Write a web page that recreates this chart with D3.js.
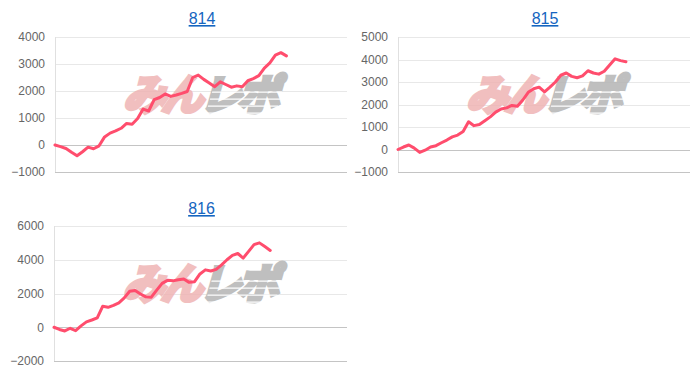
<!DOCTYPE html>
<html>
<head>
<meta charset="utf-8">
<script src="https://cdn.jsdelivr.net/npm/d3@7"></script>
<style>
    body { margin: 0; background: #fff; }
    svg { display: block; font-family: "Liberation Sans", Arial, sans-serif; }
</style>
</head>
<body>
<div id="chart"></div>
<script>

// chart titles
var titles = ["814", "815", "816"];

// y axis ticks of each chart
var ticks814 = [-1000, 0, 1000, 2000, 3000, 4000];
var ticks815 = [-1000, 0, 1000, 2000, 3000, 4000, 5000];
var ticks816 = [-2000, 0, 2000, 4000, 6000];

// cumulative balance, one value per step
var values814 = [0, -60, -130, -270, -400, -250, -80, -140, -30, 300, 440, 520, 620, 800, 770,
    980, 1330, 1260, 1680, 1760, 1890, 1800, 1850, 1910, 1980, 2500, 2590, 2430, 2300, 2160,
    2340, 2240, 2140, 2190, 2160, 2380, 2460, 2570, 2850, 3040, 3330, 3420, 3300];
var values815 = [0, 110, 200, 60, -130, -30, 110, 170, 300, 420, 560, 640, 800, 1230, 1060,
    1110, 1280, 1450, 1660, 1800, 1850, 1960, 1920, 2200, 2540, 2700, 2770, 2560, 2770, 3000,
    3300, 3400, 3250, 3190, 3270, 3500, 3400, 3350, 3480, 3760, 4030, 3950, 3900];
var values816 = [0, -130, -220, -60, -200, 80, 320, 430, 560, 1240, 1180, 1300, 1450, 1740, 2130,
    2180, 1970, 1800, 1780, 2200, 2600, 2780, 2750, 2820, 2860, 2660, 2700, 3160, 3400, 3330,
    3430, 3700, 4000, 4260, 4370, 4100, 4500, 4900, 5000, 4780, 4550];

// number of steps the x axis has room for
var xSpans = [53, 53.8, 54.2];

var width = 700, height = 374;

var svg = d3.select("#chart").append("svg")
    .attr("width", width)
    .attr("height", height);

var panels = [
    {title: titles[0], values: values814, ticks: ticks814, span: xSpans[0],
        left: 55, right: 347, top: 37, bottom: 172, titleY: 24},
    {title: titles[1], values: values815, ticks: ticks815, span: xSpans[1],
        left: 398, right: 690, top: 37, bottom: 172, titleY: 24},
    {title: titles[2], values: values816, ticks: ticks816, span: xSpans[2],
        left: 54, right: 347, top: 226, bottom: 361, titleY: 214}
];

panels.forEach(function(p) {
    var g = svg.append("g");

    var x = d3.scaleLinear()
        .domain([0, p.span])
        .range([p.left, p.right]);
    var y = d3.scaleLinear()
        .domain(d3.extent(p.ticks))
        .range([p.bottom, p.top]);

    // title
    g.append("text")
        .attr("x", (p.left + p.right) / 2 + 1)
        .attr("y", p.titleY)
        .attr("text-anchor", "middle")
        .style("font-size", "16px")
        .style("fill", "#1565c0")
        .style("text-decoration", "underline")
        .text(p.title);

    // grid lines
    var yMin = d3.min(p.ticks);
    g.selectAll(".grid")
        .data(p.ticks).enter()
        .append("line")
        .attr("x1", p.left)
        .attr("x2", p.right)
        .attr("y1", function(d) { return Math.round(y(d)) + 0.5; })
        .attr("y2", function(d) { return Math.round(y(d)) + 0.5; })
        .style("stroke", function(d) {
            return (d == 0 || d == yMin) ? "#c4c4c4" : "#e8e8e8";
        })
        .style("stroke-width", 1);

    // vertical axis line
    g.append("line")
        .attr("x1", p.left + 0.5)
        .attr("x2", p.left + 0.5)
        .attr("y1", p.top)
        .attr("y2", p.bottom)
        .style("stroke", "#e0e0e0");

    // tick labels
    var yAxis = d3.axisLeft(y)
        .tickValues(p.ticks)
        .tickSize(0)
        .tickPadding(10)
        .tickFormat(d3.format("d"));
    var ax = g.append("g")
        .attr("transform", "translate(" + p.left + ",0)")
        .call(yAxis);
    ax.select(".domain").remove();
    ax.selectAll("text")
        .style("font-size", "12px")
        .style("font-family", "\"Liberation Sans\", Arial, sans-serif")
        .style("fill", "#666");

    // watermark
    var cx = (p.left + p.right) / 2;
    var cy = (p.top + p.bottom) / 2 - 9;
    var wm = g.append("g")
        .attr("transform", "translate(" + (cx - 2) + "," + (cy + 14) + ") skewX(-16)")
        .style("opacity", 0.85);
    var wmText = wm.append("text")
        .attr("text-anchor", "middle")
        .style("font-family", "\"Noto Sans CJK JP\", sans-serif")
        .style("font-weight", "bold")
        .style("font-size", "42px")
        .style("letter-spacing", "-4px")
        .style("stroke-width", 4)
        .style("stroke-linejoin", "miter");
    wmText.append("tspan")
        .style("fill", "#efb4b4")
        .style("stroke", "#efb4b4")
        .text("みん");
    wmText.append("tspan")
        .style("fill", "#b5b5b5")
        .style("stroke", "#b5b5b5")
        .text("レポ");
    // speed lines cut through the gray half
    [-18, -11, -4, 3].forEach(function(dy) {
        wm.append("rect")
            .attr("x", 8)
            .attr("y", dy)
            .attr("width", 70)
            .attr("height", 1.2)
            .style("fill", "#fff");
    });

    // line
    var line = d3.line()
        .x(function(d, i) { return x(i); })
        .y(function(d) { return y(d); });
    g.append("path")
        .datum(p.values)
        .attr("d", line)
        .style("fill", "none")
        .style("stroke", "#ff4d6d")
        .style("stroke-width", 3)
        .style("stroke-linejoin", "round")
        .style("stroke-linecap", "round");
});

</script>
</body>
</html>
